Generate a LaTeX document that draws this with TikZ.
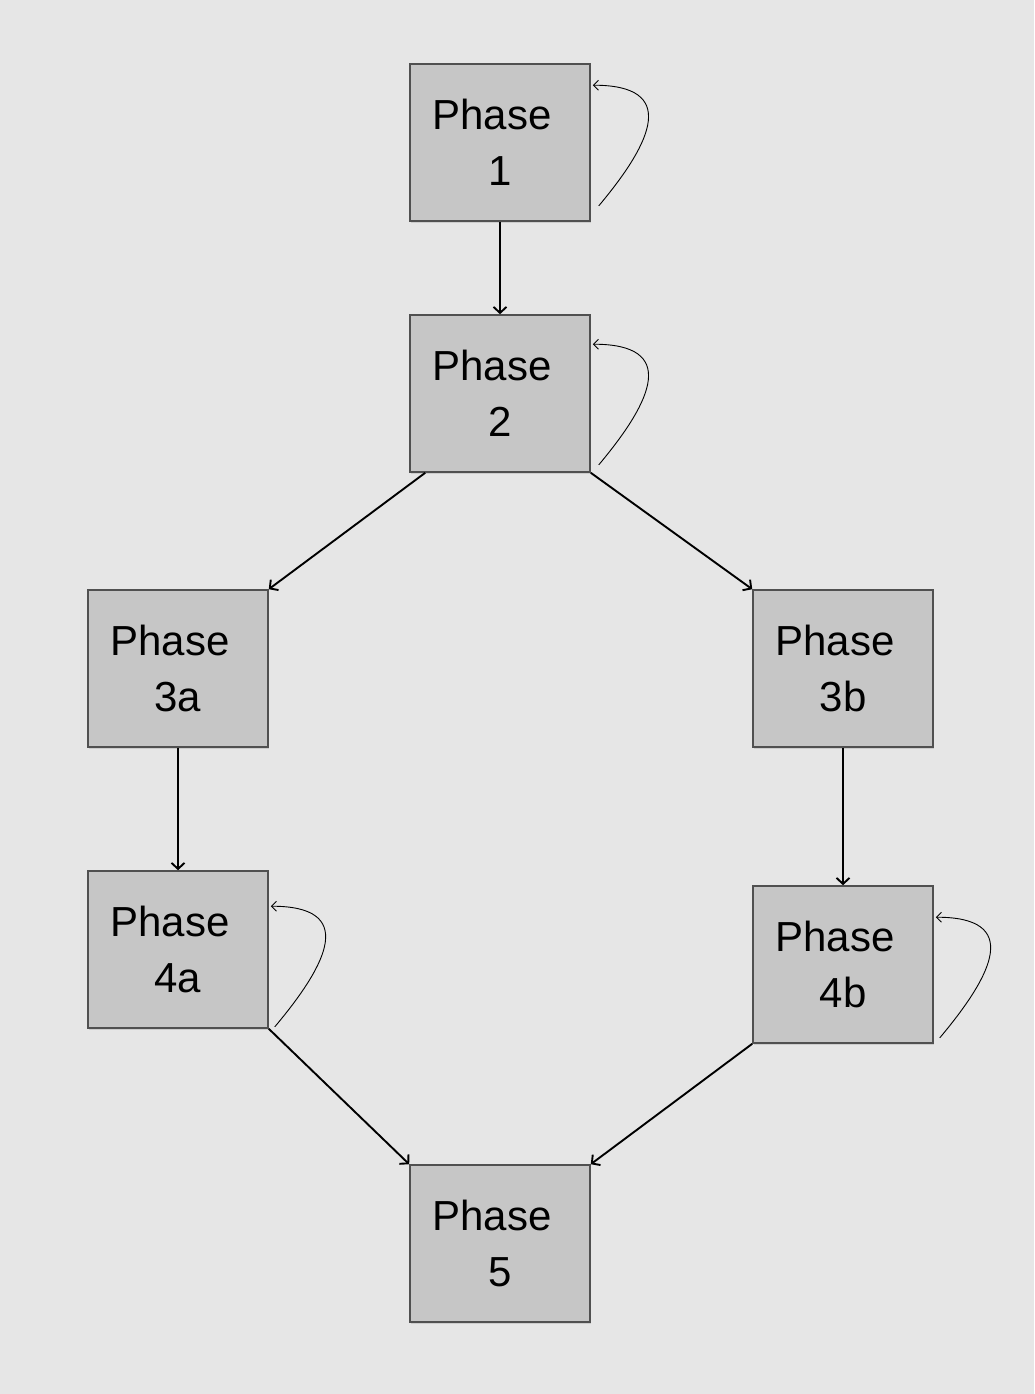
\documentclass[tikz,border=0pt]{standalone}
\usepackage{xcolor}
\usepackage{fontspec}
\setmainfont{Liberation Sans}
\usepackage{tikz}
\usetikzlibrary{shapes,arrows.meta,positioning,shadows}
\definecolor{bggray}{HTML}{E6E6E6}
\definecolor{boxgray}{HTML}{C6C6C6}
\definecolor{edgegray}{HTML}{505050}

\begin{document}
\begin{tikzpicture}[x=1pt, y=-1pt,
    phase/.style={rectangle, draw=edgegray, fill=boxgray, line width=1.6pt,
                  minimum width=180pt, minimum height=157pt, inner sep=0pt, align=center,
                  font=\fontsize{42}{56}\selectfont,
                  drop shadow={shadow xshift=1pt, shadow yshift=-2pt, opacity=0.25}},
    arrow/.style={-{Straight Barb[length=6pt,width=13pt]}, line width=1.9pt},
    selfloop/.style={-{Straight Barb[length=5pt,width=10pt]}, line width=0.9pt}
]

\path[fill=bggray] (0,0) rectangle (1034,1394);

\node[phase] (p1) at (500,142.5) {Phase\kern16pt\\1};
\node[phase] (p2) at (500,393.5) {Phase\kern16pt\\2};
\node[phase] (p3a) at (178,668.5) {Phase\kern16pt\\3a};
\node[phase] (p3b) at (843,668.5) {Phase\kern16pt\\3b};
\node[phase] (p4a) at (178,949.5) {Phase\kern16pt\\4a};
\node[phase] (p4b) at (843,964.5) {Phase\kern16pt\\4b};
\node[phase] (p5) at (500,1243.5) {Phase\kern16pt\\5};

\draw[arrow] (p1) -- (p2);
\draw[arrow] ([xshift=16pt]p2.south west) -- (p3a.north east);
\draw[arrow] (p2.south east) -- (p3b.north west);
\draw[arrow] (p3a) -- (p4a);
\draw[arrow] (p3b) -- (p4b);
\draw[arrow] (p4a.south east) -- (p5.north west);
\draw[arrow] (p4b.south west) -- (p5.north east);

% loops back to the same phase
\draw[selfloop] ([xshift=8pt,yshift=16pt]p1.south east) to[out=50,in=0,looseness=1.8] ([xshift=2pt,yshift=-22pt]p1.north east);
\draw[selfloop] ([xshift=8pt,yshift=8pt]p2.south east) to[out=50,in=0,looseness=1.8] ([xshift=2pt,yshift=-30pt]p2.north east);
\draw[selfloop] ([xshift=6pt,yshift=2pt]p4a.south east) to[out=50,in=0,looseness=1.8] ([xshift=2pt,yshift=-36pt]p4a.north east);
\draw[selfloop] ([xshift=6pt,yshift=6pt]p4b.south east) to[out=50,in=0,looseness=1.8] ([xshift=2pt,yshift=-32pt]p4b.north east);

\end{tikzpicture}
\end{document}
